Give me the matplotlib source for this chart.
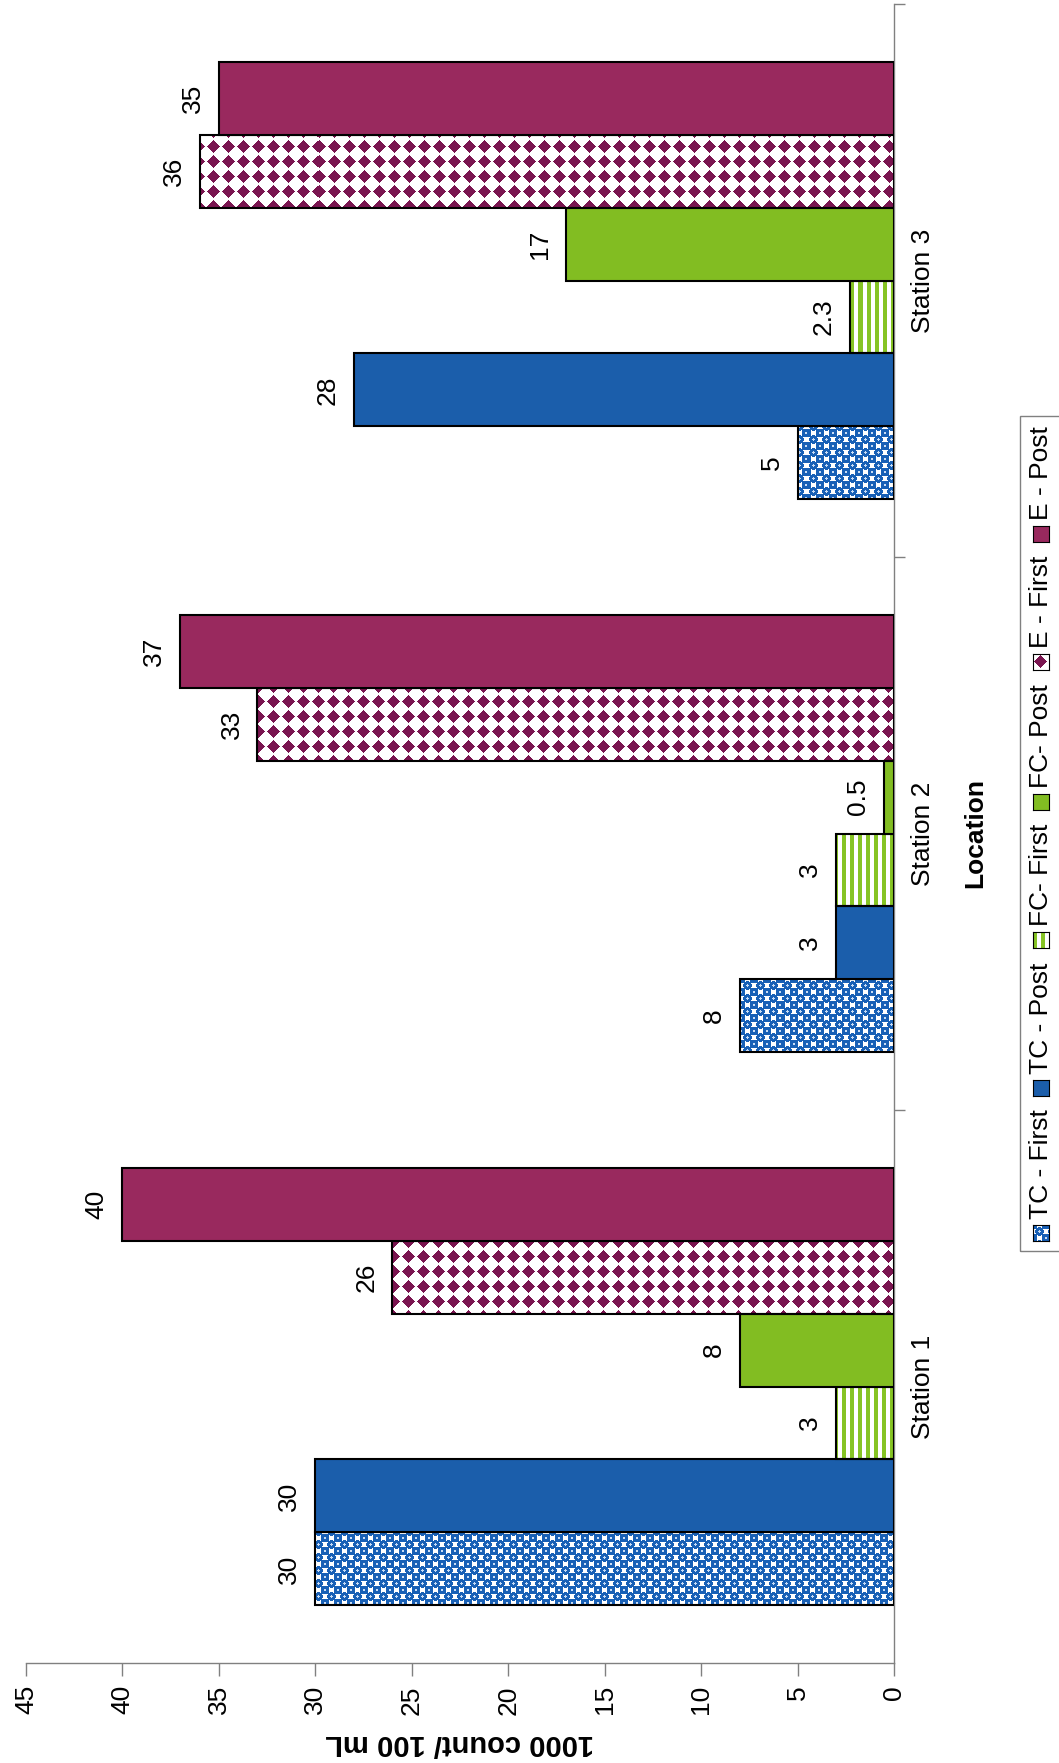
import matplotlib.pyplot as plt
from matplotlib.patches import Rectangle
import numpy as np

plt.rcParams['font.family'] = ['Liberation Sans', 'DejaVu Sans']

# data
stations = ['Station 1', 'Station 2', 'Station 3']
series = ['TC - First', 'TC - Post', 'FC- First', 'FC- Post', 'E - First', 'E - Post']
tc_first = [30, 8, 5]
tc_post = [30, 3, 28]
fc_first = [3, 3, 2.3]
fc_post = [8, 0.5, 17]
e_first = [26, 33, 36]
e_post = [40, 37, 35]
values = [tc_first, tc_post, fc_first, fc_post, e_first, e_post]
value_ticks = list(range(0, 46, 5))

BLUE = '#1b5eab'
GREEN = '#82bd22'
MAROON = '#99295e'
colors = [BLUE, BLUE, GREEN, GREEN, MAROON, MAROON]
patterns = ['dots', None, 'stripes', None, 'diamonds', None]

W, H = 1059, 1763
fig = plt.figure(figsize=(W / 100, H / 100), dpi=100)

# the chart is drawn "lying on its side": values run right to left
ax_l, ax_r, ax_t, ax_b = 26, 894, 4, 1663
ax = fig.add_axes([ax_l / W, 1 - ax_b / H, (ax_r - ax_l) / W, (ax_b - ax_t) / H])
ax.set_xlim(45, 0)
ax.set_ylim(-0.5, 2.5)


def make_pattern(kind, h, w):
    yy, xx = np.mgrid[0:h, 0:w]
    img = np.full((h, w, 3), 255, dtype=np.uint8)
    if kind == 'dots':
        p = 13
        d1 = np.hypot((xx + 0.5) % p - p / 2, (yy + 0.5) % p - p / 2)
        d2 = np.hypot((xx + 0.5 + p / 2) % p - p / 2, (yy + 0.5 + p / 2) % p - p / 2)
        d = np.minimum(d1, d2)
        img[d < 4.4] = (24, 96, 182)
        # small light core in each dot
        img[d < 1.2] = (200, 220, 245)
    elif kind == 'stripes':
        mask = (xx % 8) < 4
        img[mask] = (134, 196, 36)
    elif kind == 'diamonds':
        p = 15
        dx = np.abs((xx + 0.5) % p - p / 2)
        dy = np.abs((yy + 0.5) % p - p / 2)
        mask = dx + dy <= 6.2
        img[mask] = (122, 21, 80)
    return img


aw = int(round(ax_r - ax_l))
ah = int(round(ax_b - ax_t))
pattern_imgs = {k: make_pattern(k, ah, aw) for k in ['dots', 'stripes', 'diamonds']}

n = len(series)
bh = 0.132
y = np.arange(len(stations))
for i, (name, vals) in enumerate(zip(series, values)):
    pos = y + (i - (n - 1) / 2) * bh
    kind = patterns[i]
    if kind is None:
        bars = ax.barh(pos, vals, height=bh, color=colors[i], edgecolor='black',
                       linewidth=1.5, zorder=3)
    else:
        bars = ax.barh(pos, vals, height=bh, facecolor='none', edgecolor='black',
                       linewidth=1.5, zorder=3)
        for b in bars:
            im = ax.imshow(pattern_imgs[kind], extent=[0, 1, 0, 1], transform=ax.transAxes,
                           aspect='auto', interpolation='nearest', zorder=2)
            im.set_clip_path(b)
    ax.bar_label(bars, fmt='%g', padding=10, rotation=90, fontsize=19)

ax.set_xlim(45, 0)
ax.set_ylim(-0.5, 2.5)

# axes styling
for s in ['left', 'top']:
    ax.spines[s].set_visible(False)
for s in ['bottom', 'right']:
    ax.spines[s].set_color('#808080')
    ax.spines[s].set_linewidth(1)

ax.set_xticks(value_ticks)
ax.set_xticklabels([str(v) for v in value_ticks], rotation=90)
ax.tick_params(axis='x', direction='out', length=9, width=1, color='#808080',
               labelsize=19, pad=7)

ax.yaxis.tick_right()
ax.set_yticks(y)
ax.set_yticklabels(stations, rotation=90)
ax.set_yticks([0.5, 1.5, 2.5], minor=True)
ax.tick_params(axis='y', which='major', length=0, labelsize=19, pad=12)
ax.tick_params(axis='y', which='minor', direction='out', length=8, width=1, color='#808080')
for lbl in ax.get_yticklabels():
    lbl.set_va('center')

ax.set_xlabel('1000 count/ 100 mL', fontsize=21, fontweight='bold', rotation=180)
ax.xaxis.set_label_coords(0.5, -(1743 - ax_b) / (ax_b - ax_t))
ax.xaxis.label.set_va('center')

ax.yaxis.set_label_position('right')
ax.set_ylabel('Location', fontsize=19, fontweight='bold', rotation=90)
ax.yaxis.set_label_coords((975 - ax_l) / (ax_r - ax_l), 0.5)
ax.yaxis.label.set_va('center')
ax.yaxis.label.set_ha('center')
ax.yaxis.label.set_rotation_mode('default')

# legend, built by hand because it is rotated
fig.canvas.draw()
renderer = fig.canvas.get_renderer()
leg_fs = 19
m = 16
gap_mt, gap_entry, pad = 6, 14, 10
texts = []
lengths = []
for name in series:
    t = fig.text(1041 / W, 0.5, name, rotation=90, ha='center', va='bottom', fontsize=leg_fs)
    texts.append(t)
    lengths.append(t.get_window_extent(renderer).height)

total = 2 * pad + n * m + n * gap_mt + sum(lengths) + (n - 1) * gap_entry
center = 833.5
yb = center + total / 2 - pad  # pixel from top, moving upward
for i, name in enumerate(series):
    # marker
    mx = fig.add_axes([1033 / W, 1 - yb / H, m / W, m / H])
    if patterns[i] is None:
        mx.set_facecolor(colors[i])
    else:
        tile = pattern_imgs[patterns[i]][0:m, 0:m]
        mx.imshow(tile, interpolation='nearest', aspect='auto')
    mx.set_xticks([])
    mx.set_yticks([])
    for s in mx.spines.values():
        s.set_linewidth(0.8)
        s.set_color('black')
    yb -= m + gap_mt
    texts[i].set_position((1041 / W, 1 - yb / H))
    yb -= lengths[i] + gap_entry

fig.add_artist(Rectangle((1020 / W, 1 - (center + total / 2) / H), 60 / W, total / H,
                         transform=fig.transFigure, fill=False, edgecolor='#808080',
                         linewidth=1))

fig.savefig('out.png', dpi=100)
